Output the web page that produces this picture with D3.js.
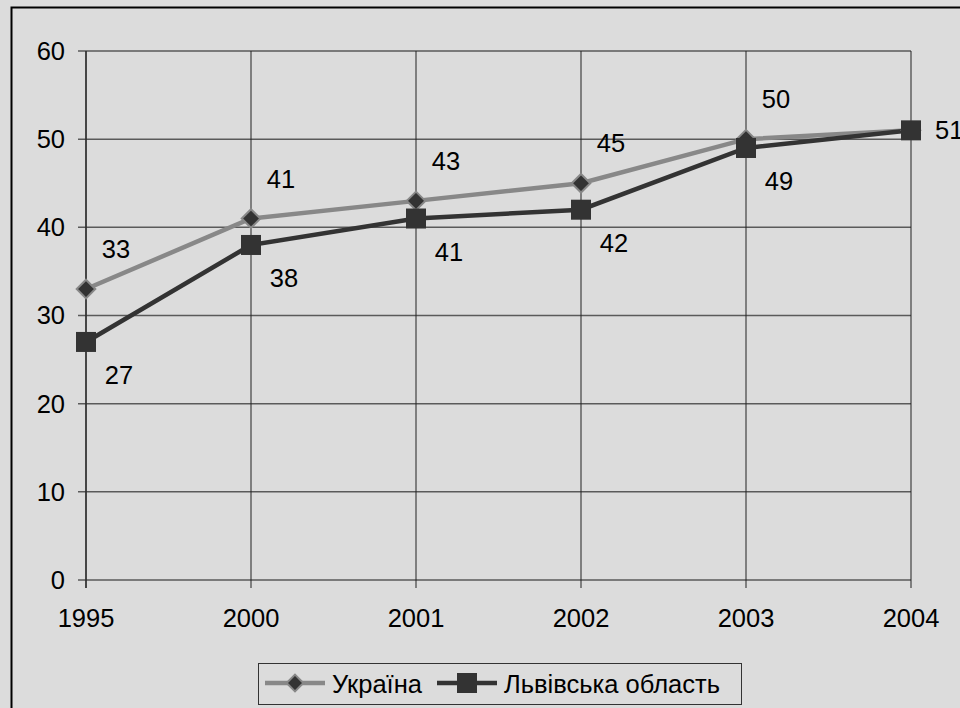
<!DOCTYPE html>
<html>
<head>
<meta charset="utf-8">
<script src="https://d3js.org/d3.v7.min.js"></script>
<style>
    body { margin: 0; background: #dcdcdc; }
    svg { display: block; font-family: "Liberation Sans", Arial, sans-serif; }
    .axis-label { font-size: 25.5px; fill: #000; }
    .point-label { font-size: 25.5px; fill: #000; }
</style>
</head>
<body>
<div id="chart-area"></div>
<script>
// chart data
var years = ["1995", "2000", "2001", "2002", "2003", "2004"];
var ukraineValues = [33, 41, 43, 45, 50, 51];
var lvivValues = [27, 38, 41, 42, 49, 51];
var seriesNames = ["Україна", "Львівська область"];
var yTicks = [0, 10, 20, 30, 40, 50, 60];

/*
 * LineChart - Object constructor function
 * @param _parentElement -- the HTML element in which to draw the visualization
 */
LineChart = function(_parentElement) {
    this.parentElement = _parentElement;
    this.initVis();
};

LineChart.prototype.initVis = function() {
    var vis = this;

    vis.width = 960;
    vis.height = 708;

    vis.svg = d3.select("#" + vis.parentElement).append("svg")
        .attr("width", vis.width)
        .attr("height", vis.height);

    // chart frame (right and bottom edges fall outside the picture)
    vis.svg.append("rect")
        .attr("x", 11.5)
        .attr("y", 7.5)
        .attr("width", 1000)
        .attr("height", 800)
        .attr("fill", "#dcdcdc")
        .attr("stroke", "#000")
        .attr("stroke-width", 2);

    // scales
    vis.x = d3.scalePoint().domain(years).range([86, 911]);
    vis.y = d3.scaleLinear().domain([0, 60]).range([580, 51]);

    vis.line = d3.line()
        .x(function(d) { return vis.x(d.year); })
        .y(function(d) { return vis.y(d.value); });

    vis.wrangleData();
};

LineChart.prototype.wrangleData = function() {
    var vis = this;

    vis.displayData = [
        { name: seriesNames[0], color: "#888888", marker: "diamond",
          values: years.map(function(y, i) { return { year: y, value: ukraineValues[i] }; }) },
        { name: seriesNames[1], color: "#333333", marker: "square",
          values: years.map(function(y, i) { return { year: y, value: lvivValues[i] }; }) }
    ];

    vis.updateVis();
};

LineChart.prototype.drawMarker = function(sel, type, size) {
    if (type === "diamond") {
        sel.append("path")
            .attr("d", d3.symbol().type(d3.symbolDiamond2).size(size || 220))
            .attr("fill", "#333")
            .attr("stroke", "#888")
            .attr("stroke-width", 2);
    } else {
        sel.append("rect")
            .attr("x", -10)
            .attr("y", -10)
            .attr("width", 20)
            .attr("height", 20)
            .attr("fill", "#333");
    }
};

LineChart.prototype.updateVis = function() {
    var vis = this;

    // horizontal gridlines + y axis ticks
    vis.svg.append("g")
        .attr("class", "grid-y")
        .selectAll("line")
        .data(yTicks)
        .enter().append("line")
        .attr("x1", 78)
        .attr("x2", vis.x.range()[1])
        .attr("y1", function(d) { return vis.y(d); })
        .attr("y2", function(d) { return vis.y(d); })
        .attr("stroke", "#5a5a5a")
        .attr("stroke-width", 1.5);

    // vertical gridlines + x ticks
    vis.svg.append("g")
        .attr("class", "grid-x")
        .selectAll("line")
        .data(years)
        .enter().append("line")
        .attr("x1", function(d) { return vis.x(d); })
        .attr("x2", function(d) { return vis.x(d); })
        .attr("y1", vis.y(60))
        .attr("y2", vis.y(0) + 8)
        .attr("stroke", "#222")
        .attr("stroke-width", 1);

    // y axis line
    vis.svg.append("line")
        .attr("x1", vis.x(years[0]))
        .attr("x2", vis.x(years[0]))
        .attr("y1", vis.y(60))
        .attr("y2", vis.y(0) + 8)
        .attr("stroke", "#333")
        .attr("stroke-width", 1.5);

    // tick labels
    vis.svg.append("g").selectAll("text")
        .data(yTicks)
        .enter().append("text")
        .attr("class", "axis-label")
        .attr("x", 65)
        .attr("y", function(d) { return vis.y(d); })
        .attr("dy", "0.35em")
        .attr("text-anchor", "end")
        .text(function(d) { return d; });

    vis.svg.append("g").selectAll("text")
        .data(years)
        .enter().append("text")
        .attr("class", "axis-label")
        .attr("x", function(d) { return vis.x(d); })
        .attr("y", 627)
        .attr("text-anchor", "middle")
        .text(function(d) { return d; });

    // series lines
    vis.svg.selectAll(".series-line")
        .data(vis.displayData)
        .enter().append("path")
        .attr("class", "series-line")
        .attr("d", function(d) { return vis.line(d.values); })
        .attr("fill", "none")
        .attr("stroke", function(d) { return d.color; })
        .attr("stroke-width", 4.5);

    // markers
    vis.displayData.forEach(function(s) {
        s.values.forEach(function(p) {
            var g = vis.svg.append("g")
                .attr("transform", "translate(" + vis.x(p.year) + "," + vis.y(p.value) + ")");
            vis.drawMarker(g, s.marker);
        });
    });

    // data labels: Україна above, Львівська below; last point labelled once to the right
    var last = years.length - 1;
    vis.displayData.forEach(function(s, si) {
        s.values.forEach(function(p, i) {
            if (i === last && si === 1 && p.value === vis.displayData[0].values[i].value) return;
            var px = vis.x(p.year), py = vis.y(p.value);
            var t = vis.svg.append("text")
                .attr("class", "point-label")
                .text(p.value);
            if (i === last) {
                t.attr("x", px + 24).attr("y", py).attr("dy", "0.35em");
            } else if (si === 0) {
                t.attr("x", px + 30).attr("y", py - 31).attr("text-anchor", "middle");
            } else {
                t.attr("x", px + 33).attr("y", py + 42).attr("text-anchor", "middle");
            }
        });
    });

    // legend
    var legend = vis.svg.append("g").attr("class", "legend");
    legend.append("rect")
        .attr("x", 258.5)
        .attr("y", 663.5)
        .attr("width", 483)
        .attr("height", 41)
        .attr("fill", "none")
        .attr("stroke", "#333")
        .attr("stroke-width", 1);

    var legendX = [265, 437];
    vis.displayData.forEach(function(s, i) {
        var lg = legend.append("g")
            .attr("transform", "translate(" + legendX[i] + ",683)");
        lg.append("line")
            .attr("x1", 0).attr("x2", 60)
            .attr("stroke", s.color)
            .attr("stroke-width", 4.5);
        var m = lg.append("g").attr("transform", "translate(30,0)");
        vis.drawMarker(m, s.marker, 180);
        lg.append("text")
            .attr("class", "axis-label")
            .attr("x", 67)
            .attr("y", 10)
            .text(s.name);
    });
};

var chart = new LineChart("chart-area");
</script>
</body>
</html>
